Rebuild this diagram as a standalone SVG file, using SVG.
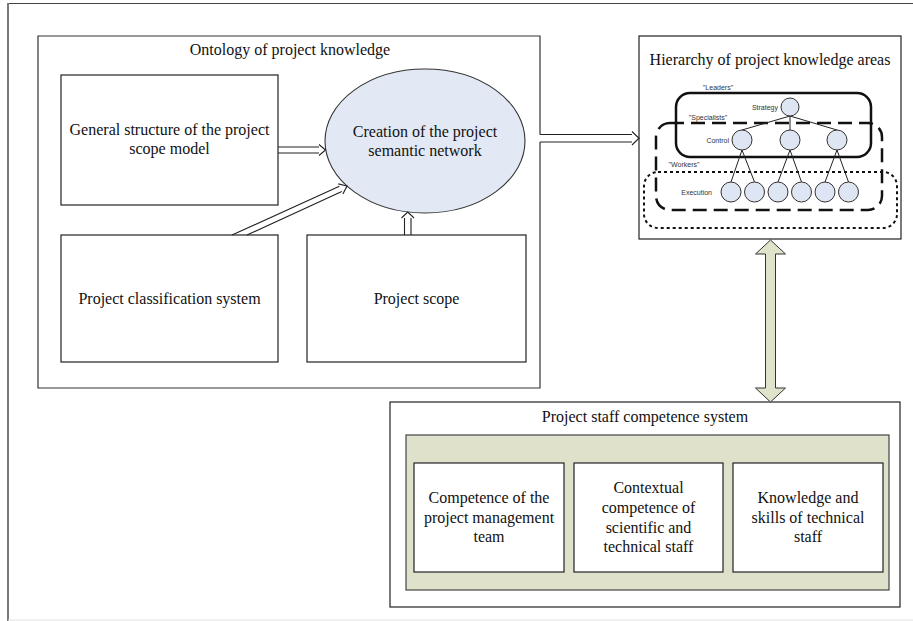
<svg xmlns="http://www.w3.org/2000/svg" width="913" height="621" viewBox="0 0 913 621">
<style>
.box{fill:#fff;stroke:#222;stroke-width:1.2}
.t{font-family:"Liberation Serif","Times New Roman",serif;font-size:16px;fill:#111;text-anchor:middle}
.s{font-family:"Liberation Sans",Arial,sans-serif;font-size:7px;fill:#333}
.c{fill:#dfe6f3;stroke:#333;stroke-width:1}
.conn{fill:none;stroke:#222;stroke-width:1.1}
.tree{fill:none;stroke:#222;stroke-width:1}
</style>
<rect x="0" y="0" width="913" height="621" fill="#fff"/>
<g id="frame">
<line x1="7" y1="3.5" x2="913" y2="3.5" stroke="#444" stroke-width="1"/>
<line x1="8" y1="3" x2="8" y2="621" stroke="#7a7a7a" stroke-width="2"/>
<line x1="8" y1="620" x2="913" y2="620" stroke="#e2e2e2" stroke-width="1"/>
</g>
<g id="ontology">
<path d="M540,134.5 V36 H38 V388 H540 V142" fill="#fff" stroke="#333" stroke-width="1.2"/>
<text class="t" x="290" y="55">Ontology of project knowledge</text>
</g>
<g id="general-structure">
<rect class="box" x="61" y="75" width="217" height="130"/>
<text class="t" x="169.5" y="135">General structure of the project</text>
<text class="t" x="169.5" y="154">scope model</text>
</g>
<g id="semantic-network">
<ellipse cx="425" cy="141" rx="100" ry="72" fill="#e3e9f4" stroke="#333" stroke-width="1.1"/>
<text class="t" x="425" y="137">Creation of the project</text>
<text class="t" x="425" y="156">semantic network</text>
</g>
<g id="classification">
<rect class="box" x="61" y="235" width="217" height="127"/>
<text class="t" x="169.5" y="304">Project classification system</text>
</g>
<g id="scope">
<rect class="box" x="307" y="235" width="219" height="127"/>
<text class="t" x="416.5" y="304">Project scope</text>
</g>
<g id="hierarchy">
<rect class="box" x="639" y="36" width="262" height="203"/>
<text class="t" x="770" y="65">Hierarchy of project knowledge areas</text>
<rect x="676" y="93" width="195" height="64" rx="14" fill="none" stroke="#111" stroke-width="2.5"/>
<rect x="656" y="123" width="226" height="87" rx="14" fill="none" stroke="#111" stroke-width="2.5" stroke-dasharray="14,7"/>
<rect x="644" y="172" width="253" height="56" rx="14" fill="none" stroke="#111" stroke-width="2" stroke-dasharray="3,3"/>
<path class="tree" d="M790,116 L742,130 M790,116 L790,130 M790,116 L837,130 M742,150 L731,182 M742,150 L754.5,182 M790,150 L778,182 M790,150 L801.5,182 M837,150 L825,182 M837,150 L848.5,182"/>
<circle class="c" cx="790" cy="107" r="9"/>
<circle class="c" cx="742" cy="140" r="10"/>
<circle class="c" cx="790" cy="140" r="10"/>
<circle class="c" cx="837" cy="140" r="10"/>
<circle class="c" cx="731" cy="192" r="10"/>
<circle class="c" cx="754.5" cy="192" r="10"/>
<circle class="c" cx="778" cy="192" r="10"/>
<circle class="c" cx="801.5" cy="192" r="10"/>
<circle class="c" cx="825" cy="192" r="10"/>
<circle class="c" cx="848.5" cy="192" r="10"/>
<text class="s" x="718" y="90" text-anchor="middle">"Leaders"</text>
<text class="s" x="778" y="109.5" text-anchor="end">Strategy</text>
<text class="s" x="708" y="120" text-anchor="middle">"Specialists"</text>
<text class="s" x="729" y="142.5" text-anchor="end">Control</text>
<text class="s" x="684" y="167" text-anchor="middle">"Workers"</text>
<text class="s" x="712" y="194.5" text-anchor="end">Execution</text>
</g>
<g id="competence-system">
<rect class="box" x="390" y="402" width="510" height="205"/>
<text class="t" x="645" y="422">Project staff competence system</text>
<rect x="406" y="435" width="483" height="155" fill="#dfe1cb" stroke="#444" stroke-width="1.2"/>
</g>
<g id="management-team">
<rect class="box" x="414" y="463" width="150" height="109"/>
<text class="t" x="489" y="503">Competence of the</text>
<text class="t" x="489" y="523">project management</text>
<text class="t" x="489" y="542">team</text>
</g>
<g id="contextual">
<rect class="box" x="574" y="463" width="149" height="109"/>
<text class="t" x="648.5" y="493">Contextual</text>
<text class="t" x="648.5" y="513">competence of</text>
<text class="t" x="648.5" y="533">scientific and</text>
<text class="t" x="648.5" y="552">technical staff</text>
</g>
<g id="technical-skills">
<rect class="box" x="733" y="463" width="150" height="109"/>
<text class="t" x="808" y="503">Knowledge and</text>
<text class="t" x="808" y="523">skills of technical</text>
<text class="t" x="808" y="542">staff</text>
</g>
<g id="connectors">
<path class="conn" d="M278,147 H319 M278,153 H319 M319,144.5 L325.5,150 L319,155.5"/>
<path class="conn" d="M540,134.5 H632 M540,142 H632 M632,131.5 L639,138.25 L632,145"/>
<path class="conn" d="M232,235 L339.4,186.3 M247,235 L341.8,191.5 M338.3,183.9 L347,186 L342.9,193.9"/>
<path class="conn" d="M404.5,235 V218 M411,235 V218 M401.5,218 L407.75,212 L414,218"/>
<path d="M770.5,240 L785.5,254 L775.5,254 L775.5,388 L785.5,388 L770.5,402 L755.5,388 L765.5,388 L765.5,254 L755.5,254 Z" fill="#dfe3c9" stroke="#333" stroke-width="1"/>
</g>
</svg>
